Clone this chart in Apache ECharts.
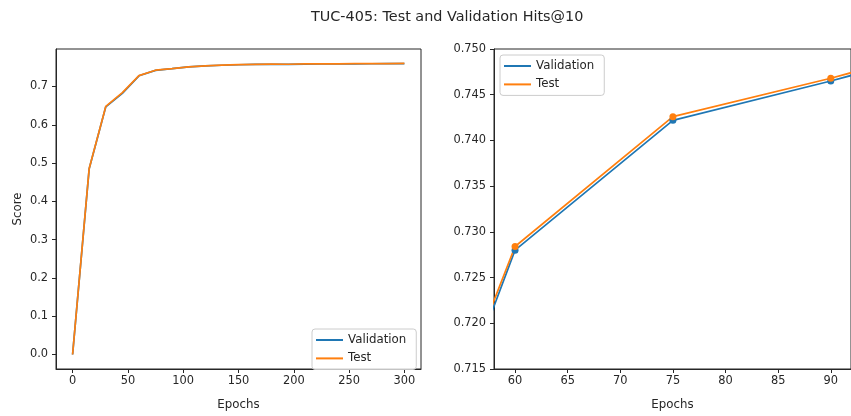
<!DOCTYPE html>
<html>
<head>
<meta charset="utf-8">
<script src="https://cdn.jsdelivr.net/npm/echarts@6/dist/echarts.min.js"></script>
<style>
  html, body { margin: 0; padding: 0; background: #fff; }
  #charts { width: 851px; height: 416px; }
</style>
</head>
<body>
<div id="charts"></div>
<script>
// data
var epochs = [0, 15, 30, 45, 60, 75, 90, 105, 120, 135, 150, 165, 180, 195, 210, 225, 240, 255, 270, 285, 300];
var validScore = [0.000, 0.485, 0.647, 0.682, 0.7280, 0.7422, 0.7465, 0.7512, 0.7538, 0.7555, 0.7568, 0.7576, 0.7580, 0.7578, 0.7586, 0.7589, 0.7591, 0.7593, 0.7595, 0.7597, 0.7599];
var testScore  = [0.000, 0.486, 0.648, 0.684, 0.7284, 0.7426, 0.7468, 0.7515, 0.7541, 0.7558, 0.7571, 0.7579, 0.7583, 0.7581, 0.7589, 0.7592, 0.7594, 0.7596, 0.7598, 0.7600, 0.7602];
var leftXTicks = [0, 50, 100, 150, 200, 250, 300];
var leftYTicks = [0, 0.1, 0.2, 0.3, 0.4, 0.5, 0.6, 0.7];
var rightXTicks = [60, 65, 70, 75, 80, 85, 90];
var rightYTicks = [0.715, 0.720, 0.725, 0.730, 0.735, 0.740, 0.745, 0.750];

var blue = '#1f77b4', orange = '#ff7f0e';
var font = 'DejaVu Sans';
var ink = '#262626';

function pairs(xs, ys) {
    var out = [];
    for (var i = 0; i < xs.length; i++) out.push([xs[i], ys[i]]);
    return out;
}

function xAxisCfg(idx, min, max, ticks) {
    return {
        type: 'value', gridIndex: idx, min: min, max: max,
        name: 'Epochs', nameLocation: 'middle', nameGap: 30,
        nameTextStyle: { fontFamily: font, fontSize: 11.8, color: ink },
        axisLine: { show: true, onZero: false, lineStyle: { color: ink, width: 1 } },
        axisTick: { show: true, inside: false, length: 4, customValues: ticks, lineStyle: { color: ink } },
        axisLabel: { customValues: ticks, margin: 7, fontFamily: font, fontSize: 11.4, color: ink },
        splitLine: { show: false }
    };
}

function yAxisCfg(idx, min, max, ticks, digits, name) {
    return {
        type: 'value', gridIndex: idx, min: min, max: max,
        name: name, nameLocation: 'middle', nameGap: 32,
        nameTextStyle: { fontFamily: font, fontSize: 11.8, color: ink },
        axisLine: { show: true, onZero: false, lineStyle: { color: ink, width: 1 } },
        axisTick: { show: true, inside: false, length: 4, customValues: ticks, lineStyle: { color: ink } },
        axisLabel: { customValues: ticks, margin: 8, fontFamily: font, fontSize: 11.4, color: ink,
            formatter: function (v) { return v.toFixed(digits); } },
        splitLine: { show: false }
    };
}

function legendCfg(left, top) {
    return {
        orient: 'vertical', left: left, top: top,
        data: [{ name: 'Validation', itemStyle: { color: blue } }, { name: 'Test', itemStyle: { color: orange } }],
        icon: 'rect', itemWidth: 27, itemHeight: 2, itemGap: 2.4,
        padding: [3, 10, 3, 4],
        borderColor: '#cccccc', borderWidth: 1, borderRadius: 3,
        backgroundColor: 'rgba(255,255,255,0.8)',
        textStyle: { fontFamily: font, fontSize: 11.8, color: ink, lineHeight: 16 },
        selectedMode: false
    };
}

function lineSeries(name, idx, ys, color, withSymbol) {
    return {
        name: name, type: 'line', xAxisIndex: idx, yAxisIndex: idx,
        data: pairs(epochs, ys),
        showSymbol: withSymbol, symbol: 'circle', symbolSize: 7,
        itemStyle: { color: color },
        lineStyle: { color: color, width: 1.7 },
        clip: true, animation: false
    };
}

var myChart = echarts.init(document.getElementById('charts'));

option = {
    backgroundColor: '#fff',
    animation: false,
    title: {
        // figure was wider than the crop, so centre sits at x=444
        text: 'TUC-405: Test and Validation Hits@10',
        left: 306, top: 5,
        textStyle: { fontFamily: font, fontSize: 14.4, fontWeight: 'normal', color: ink }
    },
    legend: [legendCfg(312, 329), legendCfg(500, 55)],
    grid: [
        { left: 56, top: 49, width: 365, height: 327, show: true, borderColor: ink, borderWidth: 1, backgroundColor: 'transparent' },
        { left: 494, top: 49, width: 365, height: 327, show: true, borderColor: ink, borderWidth: 1, backgroundColor: 'transparent' }
    ],
    xAxis: [
        xAxisCfg(0, -15, 315, leftXTicks),
        xAxisCfg(1, 58, 58 + 365 / 10.76, rightXTicks)
    ],
    yAxis: [
        yAxisCfg(0, -0.038, 0.798, leftYTicks, 1, 'Score'),
        yAxisCfg(1, 0.715, 0.750, rightYTicks, 3, '')
    ],
    series: [
        lineSeries('Validation', 0, validScore, blue, false),
        lineSeries('Test', 0, testScore, orange, false),
        lineSeries('Validation', 1, validScore, blue, true),
        lineSeries('Test', 1, testScore, orange, true)
    ]
};

myChart.setOption(option);
</script>
</body>
</html>
